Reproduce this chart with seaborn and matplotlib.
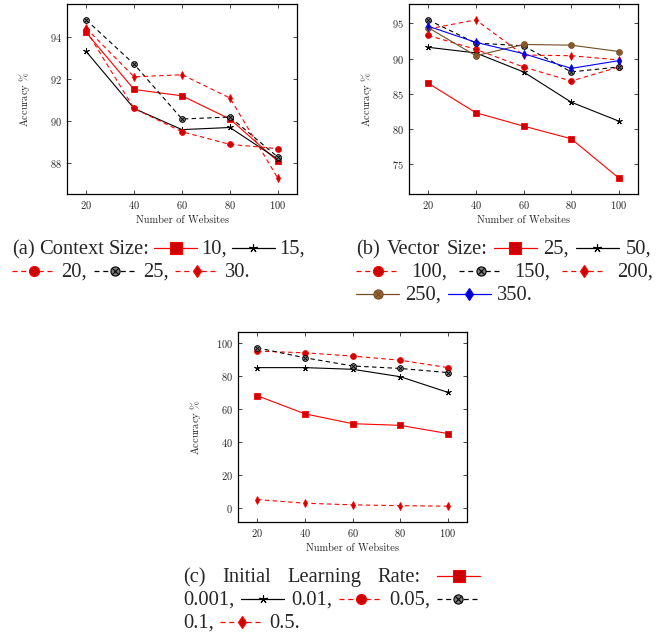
import numpy as np
import pandas as pd
import seaborn as sns
import matplotlib
matplotlib.use('Agg')
import matplotlib.pyplot as plt
import matplotlib.ticker as ticker
from matplotlib.lines import Line2D
from matplotlib.path import Path

# ---- data ----
websites = [20, 40, 60, 80, 100]

# (a) context size
ctx_10 = [94.2, 91.5, 91.2, 90.1, 88.1]
ctx_15 = [93.3, 90.6, 89.6, 89.7, 88.2]
ctx_20 = [94.3, 90.6, 89.5, 88.9, 88.7]
ctx_25 = [94.8, 92.7, 90.1, 90.2, 88.3]
ctx_30 = [94.4, 92.1, 92.2, 91.1, 87.3]

# (b) vector size
vec_25 = [86.5, 82.3, 80.4, 78.6, 73.0]
vec_50 = [91.6, 90.8, 88.1, 83.8, 81.1]
vec_100 = [93.3, 91.3, 88.8, 86.8, 88.8]
vec_150 = [95.5, 92.2, 91.8, 88.1, 88.8]
vec_200 = [94.2, 95.5, 90.5, 90.4, 89.8]
vec_250 = [94.4, 90.4, 92.0, 91.9, 91.0]
vec_350 = [94.6, 92.3, 90.7, 88.6, 89.7]

# (c) initial learning rate
lr_0001 = [68, 57, 51, 50, 45]
lr_001 = [85, 85, 84, 79.5, 70]
lr_005 = [95, 94, 92, 89.5, 85]
lr_01 = [97, 91, 86, 84.5, 82]
lr_05 = [5, 2.8, 1.8, 1.3, 1.0]

# ---- styles (pgfplots-like) ----
d = 0.7071
otimes = Path.make_compound_path(
    Path.unit_circle(),
    Path([(-d, -d), (d, d), (-d, d), (d, -d)],
         [Path.MOVETO, Path.LINETO, Path.MOVETO, Path.LINETO]))
star = (5, 2, 0)
dash = (0, (4, 3))

# ms = marker size in the plots, lms = marker size in the caption samples
RED_SQ = dict(color='red', marker='s', ls='-', mfc='#CC0000', mec='red', ms=3.8, lms=8)
BLK_ST = dict(color='black', marker=star, ls='-', mfc='black', mec='black', ms=4.5, lms=6)
RED_CI = dict(color='red', marker='o', ls=dash, mfc='#CC0000', mec='red', ms=4.2, lms=7.2)
BLK_OT = dict(color='black', marker=otimes, ls=dash, mfc='#808080', mec='black', ms=4.2, lms=6.6)
RED_DI = dict(color='red', marker='d', ls=dash, mfc='#CC0000', mec='red', ms=4.2, lms=6.5)
BRN_OT = dict(color='#734D26', marker=otimes, ls='-', mfc='#996633', mec='#734D26', ms=4.2, lms=6.6)
BLU_DI = dict(color='blue', marker='d', ls='-', mfc='#0000CC', mec='blue', ms=4.2, lms=6.5)

sns.set_style('ticks')
plt.rcParams['font.family'] = 'serif'
plt.rcParams['font.serif'] = ['cmr10']
plt.rcParams['mathtext.fontset'] = 'cm'
plt.rcParams['axes.formatter.use_mathtext'] = True

W, H = 663, 635
fig = plt.figure(figsize=(W / 100, H / 100), dpi=100)


def make_ax(l, t, r, b):
    return fig.add_axes([l / W, 1 - b / H, (r - l) / W, (b - t) / H])


def draw(ax, vals, st):
    sns.lineplot(x=websites, y=vals, ax=ax, color=st['color'], marker=st['marker'],
                 linestyle=st['ls'], linewidth=0.8, markersize=st['ms'],
                 markerfacecolor=st['mfc'], markeredgecolor=st['mec'],
                 markeredgewidth=0.6)


def style_ax(ax, ylim, ystep):
    ax.set_xlim(12, 108)
    ax.set_ylim(*ylim)
    ax.xaxis.set_major_locator(ticker.MultipleLocator(20))
    ax.yaxis.set_major_locator(ticker.MultipleLocator(ystep))
    ax.tick_params(direction='in', top=True, right=True, length=3, width=0.6,
                   labelsize=7.5, pad=3.5)
    for s in ax.spines.values():
        s.set_linewidth(0.9)
        s.set_color('black')
    ax.set_xlabel('Number of Websites', fontsize=7.5, labelpad=3)
    ax.set_ylabel(r'Accuracy $\%$', fontsize=7.5)
    ax.yaxis.set_label_coords(-35 / 230, 0.5)


ax_a = make_ax(67, 4, 297, 194)
for vals, st in [(ctx_10, RED_SQ), (ctx_15, BLK_ST), (ctx_20, RED_CI),
                 (ctx_25, BLK_OT), (ctx_30, RED_DI)]:
    draw(ax_a, vals, st)
style_ax(ax_a, (86.55, 95.55), 2)

ax_b = make_ax(409, 4, 638, 194)
for vals, st in [(vec_25, RED_SQ), (vec_50, BLK_ST), (vec_100, RED_CI),
                 (vec_150, BLK_OT), (vec_200, RED_DI), (vec_250, BRN_OT),
                 (vec_350, BLU_DI)]:
    draw(ax_b, vals, st)
style_ax(ax_b, (70.75, 97.75), 5)

ax_c = make_ax(238, 332, 467, 522)
for vals, st in [(lr_0001, RED_SQ), (lr_001, BLK_ST), (lr_005, RED_CI),
                 (lr_01, BLK_OT), (lr_05, RED_DI)]:
    draw(ax_c, vals, st)
style_ax(ax_c, (-8.6, 106.6), 20)

# ---- captions with inline legend samples ----
CAP = 14.8
SW = 43
rend = fig.canvas.get_renderer()


def sample(x0, yb, st):
    yc = 1 - (yb - 6) / H
    ln = Line2D([x0 / W, (x0 + SW / 2) / W, (x0 + SW) / W], [yc] * 3,
                transform=fig.transFigure, color=st['color'], lw=0.9,
                ls=st['ls'], marker=st['marker'], markevery=[1], ms=st['lms'],
                mfc=st['mfc'], mec=st['mec'], mew=0.8)
    fig.add_artist(ln)


def caption(x0, yb, tokens, x1=None):
    items = []
    for tok in tokens:
        if isinstance(tok, str):
            t = fig.text(0, 0, tok, fontsize=CAP, family='Liberation Serif',
                         va='baseline', ha='left')
            items.append((t, t.get_window_extent(rend).width))
        else:
            items.append((tok, SW))
    gap = 6.5
    if x1 is not None:
        gap = (x1 - x0 - sum(w for _, w in items)) / (len(items) - 1)
    x = x0
    for obj, w in items:
        if isinstance(obj, dict):
            sample(x, yb, obj)
        else:
            obj.set_position((x / W, 1 - yb / H))
        x += w + gap


caption(12, 254, ['(a)', 'Context', 'Size:', RED_SQ, '10,', BLK_ST, '15,'], x1=305)
caption(12, 277, [RED_CI, '20,', BLK_OT, '25,', RED_DI, '30.'])

caption(356, 254, ['(b)', 'Vector', 'Size:', RED_SQ, '25,', BLK_ST, '50,'], x1=651)
caption(356, 277, [RED_CI, '100,', BLK_OT, '150,', RED_DI, '200,'], x1=653)
caption(356, 300, [BRN_OT, '250,', BLU_DI, '350.'])

caption(183, 582, ['(c)', 'Initial', 'Learning', 'Rate:', RED_SQ], x1=480)
caption(183, 605, ['0.001,', BLK_ST, '0.01,', RED_CI, '0.05,', BLK_OT], x1=480)
caption(183, 628, ['0.1,', RED_DI, '0.5.'])

fig.savefig('out.png', dpi=100)
